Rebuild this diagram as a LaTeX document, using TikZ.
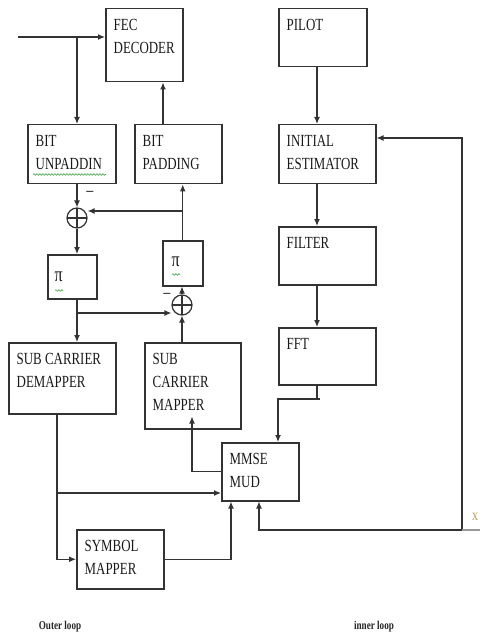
\documentclass[tikz,border=0pt]{standalone}
\usepackage{fontspec}
\setmainfont[FakeStretch=0.76]{Liberation Serif}
\usetikzlibrary{positioning, arrows.meta, calc, decorations.pathmorphing}
\definecolor{spellgreen}{RGB}{60,160,60}
\definecolor{tanmark}{RGB}{190,160,100}

\begin{document}
\begin{tikzpicture}[
  x=1pt, y=-1pt,
  font=\fontsize{17}{23}\selectfont,
  >={Latex[length=7pt,width=6pt]},
  block/.style 2 args={
    draw=black!80, line width=1.5pt, anchor=north west, inner sep=0pt,
    minimum width=#1pt, minimum height=#2pt
  },
  blocktext/.style={
    anchor=north west, align=left, inner sep=0pt, xshift=8.5pt, yshift=-11pt,
    text=black!90
  },
  txt/.style={label={[blocktext]north west:{#1}}},
  sumnode/.style={
    draw=black!80, line width=1.2pt, circle, minimum size=20pt, inner sep=0pt,
    path picture={
      \draw[line width=1.2pt] (path picture bounding box.west) -- (path picture bounding box.east);
      \draw[line width=1.2pt] (path picture bounding box.north) -- (path picture bounding box.south);
    }
  },
  arrow/.style={->, line width=1.2pt, draw=black!80},
  wire/.style={line width=1.2pt, draw=black!80},
  minus/.style={inner sep=0pt, text=black!85, font=\fontsize{20}{20}\selectfont},
  looplabel/.style={font=\fontsize{12}{14}\selectfont\bfseries, text=black!85},
  spell/.style={draw=spellgreen, line width=0.6pt, decorate,
    decoration={snake, segment length=3pt, amplitude=0.8pt}},
]
\useasboundingbox (0,0) rectangle (480,636);

% Outer loop blocks
\node[block={77}{73}, txt={FEC\\DECODER}] (fec) at (105,8) {};
\node[block={88}{59}, txt={BIT\\UNPADDIN}] (unpad) at (27,124) {};
\node[block={87}{59}, txt={BIT\\PADDING}] (pad) at (134,124) {};
\node[block={49}{44}, label={[blocktext, xshift=-1pt, yshift=-7pt, font=\fontsize{21}{21}\selectfont]north west:π}] (pil) at (47,254) {};
\node[block={40}{45}, label={[blocktext, xshift=1pt, yshift=-6pt, font=\fontsize{21}{21}\selectfont]north west:π}] (pir) at (162,240) {};
\node[block={107}{71}, txt={SUB CARRIER\\DEMAPPER}] (scdem) at (8,342) {};
\node[block={96}{86}, txt={SUB\\CARRIER\\MAPPER}] (scmap) at (144,342) {};
\node[block={77}{58}, txt={MMSE\\MUD}] (mmse) at (221,442) {};
\node[block={87}{59}, txt={SYMBOL\\MAPPER}] (symb) at (76,529) {};

% Inner loop blocks
\node[block={88}{58}, txt={PILOT}] (pilot) at (278,8) {};
\node[block={97}{59}, txt={INITIAL\\ESTIMATOR}] (est) at (278,124) {};
\node[block={97}{58}, txt={FILTER}] (filt) at (278,226) {};
\node[block={97}{57}, txt={FFT}] (fft) at (278,327) {};

% Summing points
\node[sumnode] (c1) at (77,218) {};
\node[sumnode] (c2) at (182,305) {};
\node[minus] (m1) at (90,195) {−};
\node[minus] (m2) at (167,297) {−};

% Helper points
\coordinate (in) at (18,37);
\coordinate (tap) at (77,37);
\coordinate (tapr) at (182,211);
\coordinate (tapl) at (77,313);
\coordinate (padout) at ([xshift=29pt]pad.north west);
\coordinate (dm) at ([xshift=49pt]scdem.south west);
\coordinate (tapd) at (57,493);
\coordinate (col) at (317,0);
\coordinate (fj) at (317,399);
\coordinate (fbtop) at (462,138);
\coordinate (fbbot) at (462,530);
\coordinate (rim) at (480,530);

% Outer loop connectors
\draw[arrow] (in) -- (in -| fec.west);
\draw[arrow] (tap) -- (tap |- unpad.north);
\draw[arrow] (padout) -- (padout |- fec.south);
\draw[arrow] (tap |- unpad.south) -- (c1.north);
\draw[arrow] (pir.north) -- (pir.north |- pad.south);
\draw[arrow] (tapr) -- (tapr -| c1.east);
\draw[arrow] (c1.south) -- (c1 |- pil.north);
\draw[arrow] (c2.north) -- (c2 |- pir.south);
\draw[arrow] (c1 |- pil.south) -- (c1 |- scdem.north);
\draw[arrow] (tapl) -- (tapl -| c2.west);
\draw[arrow] (c2 |- scmap.north) -- (c2.south);
\draw[arrow] (dm) |- (symb.west);
\draw[arrow] (tapd) -- (tapd -| mmse.west);
\draw[arrow, line width=1.4pt] (symb.east) -| ([xshift=10pt]mmse.south west);
\draw[arrow] (mmse.west) -| ([xshift=48pt, yshift=13pt]scmap.south west);

% Inner loop connectors
\draw[arrow] (col |- pilot.south) -- (col |- est.north);
\draw[arrow] (col |- est.south) -- (col |- filt.north);
\draw[arrow] (col |- filt.south) -- (col |- fft.north);
\draw[wire] (col |- fft.south) -- (fj) -- ++(3,0);
\draw[arrow] (fj) -| ([xshift=57pt]mmse.north west);
\draw[arrow, <->] (fbtop -| est.east) -- (fbtop) -- (fbbot) -| ([xshift=38pt]mmse.south west);
\draw[line width=1.2pt, draw=black!40] (fbbot) -- (rim);
\node[anchor=west, inner sep=0pt, text=tanmark, font=\fontsize{16}{16}\selectfont] (xm) at (472,517) {x};

% Spell-check marks
\draw[spell] ($(unpad.south west)+(6,-10)$) -- ++(73,0);
\draw[spell] ($(pil.south west)+(8,-9)$) -- ++(8,0);
\draw[spell] ($(pir.south west)+(10,-12)$) -- ++(8,0);

% Loop captions
\node[looplabel] (outer) at (60,627) {Outer loop};
\node[looplabel] (inner) at (374,627) {inner loop};

\end{tikzpicture}
\end{document}
